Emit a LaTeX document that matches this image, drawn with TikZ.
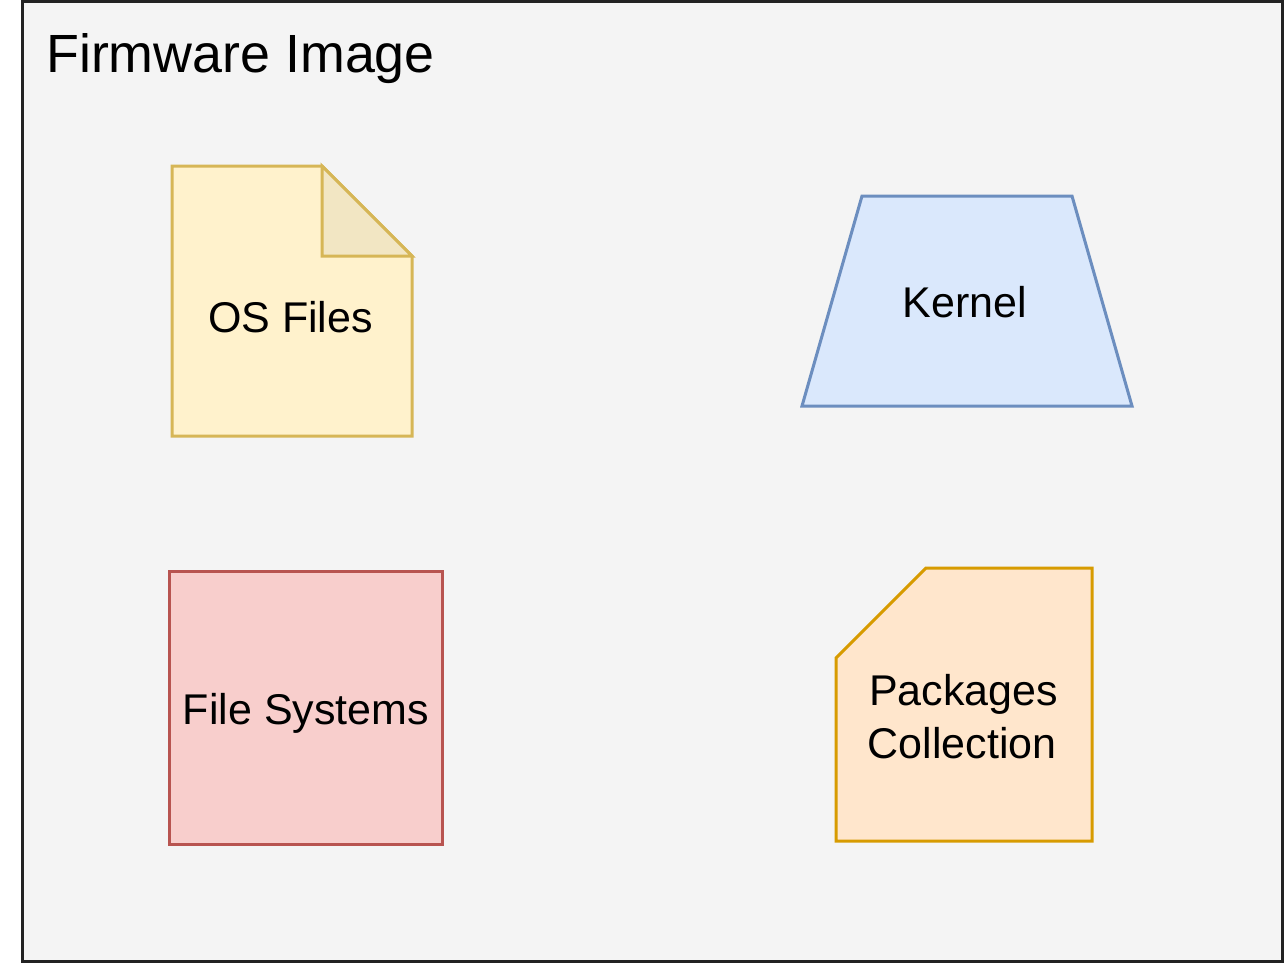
\documentclass[tikz,border=0pt]{standalone}
\usepackage{fontspec}
\setmainfont{Liberation Sans}
\definecolor{frameFill}{HTML}{F4F4F4}
\definecolor{frameLine}{HTML}{222222}
\definecolor{noteFill}{HTML}{FFF2CC}
\definecolor{noteLine}{HTML}{D6B656}
\definecolor{foldFill}{HTML}{F2E6C3}
\definecolor{kernFill}{HTML}{DAE8FC}
\definecolor{kernLine}{HTML}{6C8EBF}
\definecolor{fsFill}{HTML}{F8CECC}
\definecolor{fsLine}{HTML}{B85450}
\definecolor{pkgFill}{HTML}{FFE6CC}
\definecolor{pkgLine}{HTML}{D79B00}
\tikzset{
  shapeline/.style={line width=3pt, line join=miter},
  lbl/.style={inner sep=0pt, anchor=base, font=\fontsize{43}{52}\selectfont, text=black, align=center},
}
\begin{document}
\begin{tikzpicture}[x=1pt,y=-1pt]
\useasboundingbox (0,0) rectangle (1284,963);
\fill[white] (0,0) rectangle (1284,963);
% outer frame
\draw[shapeline, fill=frameFill, draw=frameLine] (22.5,1.5) rectangle (1282.5,961.5);
\node[inner sep=0pt, anchor=base west, font=\fontsize{53.8}{60}\selectfont] (title) at (46,72.5) {Firmware Image};
% OS Files note
\draw[shapeline, fill=noteFill, draw=noteLine] (172,166) -- (322,166) -- (412,256) -- (412,436) -- (172,436) -- cycle;
\draw[shapeline, fill=foldFill, draw=noteLine] (322,166) -- (412,256) -- (322,256) -- cycle;
\node[lbl] (osfiles) at (290.5,332.5) {OS Files};
% Kernel trapezoid
\draw[shapeline, fill=kernFill, draw=kernLine] (862,196) -- (1072,196) -- (1132,406) -- (802,406) -- cycle;
\node[lbl] (kernel) at (965,317) {Kernel};
% File Systems
\draw[shapeline, fill=fsFill, draw=fsLine] (169,571) rectangle (442,844);
\node[lbl] (fs) at (306,724) {File Systems};
% Packages card
\draw[shapeline, fill=pkgFill, draw=pkgLine] (926,568) -- (1092,568) -- (1092,841) -- (836,841) -- (836,658) -- cycle;
\node[lbl] (pkg1) at (963.5,705) {Packages};
\node[lbl] (pkg2) at (962,758) {Collection};
\end{tikzpicture}
\end{document}
